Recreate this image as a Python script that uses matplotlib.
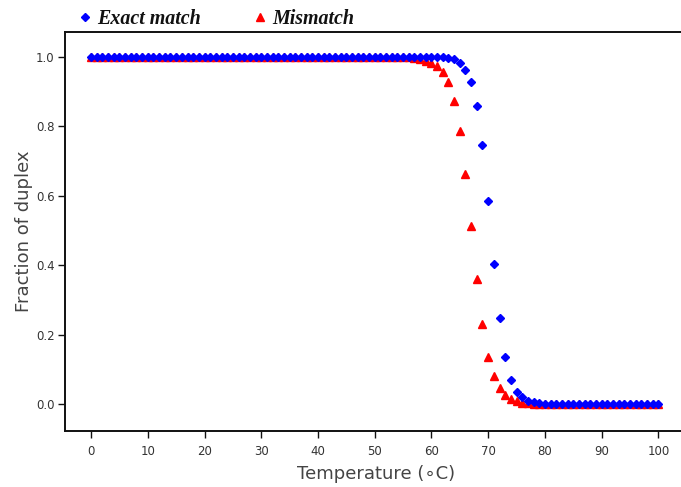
import numpy as np
import matplotlib
matplotlib.use('Agg')
import matplotlib.pyplot as plt

# temperatures (deg C), one point per degree
temperature = np.arange(0, 101)

# fraction of duplex, exact match (blue diamonds)
exact_match = [
    1.0, 1.0, 1.0, 1.0, 1.0, 1.0, 1.0, 1.0, 1.0, 1.0,
    1.0, 1.0, 1.0, 1.0, 1.0, 1.0, 1.0, 1.0, 1.0, 1.0,
    1.0, 1.0, 1.0, 1.0, 1.0, 1.0, 1.0, 1.0, 1.0, 1.0,
    1.0, 1.0, 1.0, 1.0, 1.0, 1.0, 1.0, 1.0, 1.0, 1.0,
    1.0, 1.0, 1.0, 1.0, 1.0, 1.0, 1.0, 1.0, 1.0, 1.0,
    1.0, 1.0, 1.0, 1.0, 1.0, 1.0, 1.0, 1.0, 1.0, 1.0,
    1.0, 1.0, 0.999, 0.998, 0.994, 0.984, 0.963, 0.929, 0.860, 0.746,
    0.584, 0.403, 0.247, 0.135, 0.070, 0.035, 0.019, 0.009, 0.005, 0.002,
    0.001, 0.0, 0.0, 0.0, 0.0, 0.0, 0.0, 0.0, 0.0, 0.0,
    0.0, 0.0, 0.0, 0.0, 0.0, 0.0, 0.0, 0.0, 0.0, 0.0,
    0.0,
]

# fraction of duplex, mismatch (red triangles)
mismatch = [
    1.0, 1.0, 1.0, 1.0, 1.0, 1.0, 1.0, 1.0, 1.0, 1.0,
    1.0, 1.0, 1.0, 1.0, 1.0, 1.0, 1.0, 1.0, 1.0, 1.0,
    1.0, 1.0, 1.0, 1.0, 1.0, 1.0, 1.0, 1.0, 1.0, 1.0,
    1.0, 1.0, 1.0, 1.0, 1.0, 1.0, 1.0, 1.0, 1.0, 1.0,
    1.0, 1.0, 1.0, 1.0, 1.0, 1.0, 1.0, 1.0, 1.0, 1.0,
    1.0, 1.0, 1.0, 1.0, 1.0, 1.0, 0.999, 0.997, 0.994, 0.989,
    0.982, 0.975, 0.958, 0.927, 0.874, 0.787, 0.663, 0.513, 0.361, 0.230,
    0.136, 0.080, 0.045, 0.026, 0.014, 0.008, 0.004, 0.002, 0.001, 0.0,
    0.0, 0.0, 0.0, 0.0, 0.0, 0.0, 0.0, 0.0, 0.0, 0.0,
    0.0, 0.0, 0.0, 0.0, 0.0, 0.0, 0.0, 0.0, 0.0, 0.0,
    0.0,
]

x_ticks = np.arange(0, 101, 10)
y_ticks = [0.0, 0.2, 0.4, 0.6, 0.8, 1.0]

fig = plt.figure(figsize=(6.81, 4.87), dpi=100)
ax = fig.add_axes([0.0954, 0.115, 0.913, 0.819])

ax.plot(temperature, mismatch, linestyle='none', marker='^', ms=5.4,
        color='#ff0000', mec='#ff0000', label='Mismatch', zorder=2)
ax.plot(temperature, exact_match, linestyle='none', marker='D', ms=3.8,
        color='#0000ff', mec='#0000ff', label='Exact match', zorder=3)

ax.set_xlim(-4.6, 105)
ax.set_ylim(-0.078, 1.072)
ax.set_xticks(x_ticks)
ax.set_yticks(y_ticks)
ax.set_yticklabels(['%.1f' % v for v in y_ticks])

# spines: only left, bottom and top like the original
ax.spines['right'].set_visible(False)
for s in ['left', 'bottom', 'top']:
    ax.spines[s].set_linewidth(1.4)
    ax.spines[s].set_color('#111111')

ax.tick_params(direction='out', length=5, width=1, colors='#111111',
               labelsize=8.5, labelcolor='#333333')
ax.tick_params(axis='x', pad=5)
ax.tick_params(axis='y', pad=2.5)
ax.tick_params(top=False)

ax.set_xlabel('Temperature (\u2218C)', fontsize=13, color='#444444', labelpad=5)
ax.set_ylabel('Fraction of duplex', fontsize=13, color='#444444', labelpad=2)

# legend above the plot, bold italic serif
handles, labels = ax.get_legend_handles_labels()
leg = fig.legend(handles[::-1], labels[::-1], loc='center left',
                 bbox_to_anchor=(0.116, 0.961), ncol=2, frameon=False,
                 prop={'family': 'Liberation Serif', 'weight': 'bold',
                       'style': 'italic', 'size': 14.4},
                 handlelength=0.6, handletextpad=0.32, columnspacing=2.65,
                 borderpad=0, borderaxespad=0)
for t in leg.get_texts():
    t.set_color('#111111')

plt.savefig('out.png', dpi=100)
